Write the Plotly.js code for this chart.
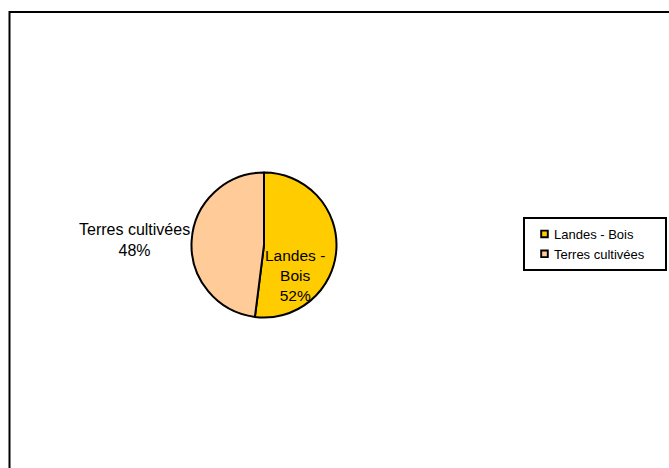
<!DOCTYPE html>
<html>
<head>
<meta charset="utf-8">
<script src="https://cdn.plot.ly/plotly-3.0.1.min.js"></script>
<style>html,body{margin:0;padding:0;background:#fff;}#chart{width:669px;height:468px;}</style>
</head>
<body>
<div id="chart"></div>
<script>
const labels = ["Landes - Bois", "Terres cultivées"];
const values = [52, 48];
const colors = ["#FFCC00", "#FFCC99"];

const W = 669, H = 468;
const total = values.reduce((a, b) => a + b, 0);
const pct = values.map(v => Math.round(v / total * 100) + "%");

const cx = 264, cy = 245, r = 72.5;

const data = [{
  type: "pie",
  labels: labels,
  values: values,
  sort: false,
  direction: "clockwise",
  rotation: 0,
  textinfo: "none",
  hoverinfo: "label+percent",
  marker: {colors: colors, line: {color: "#000", width: 2}},
  domain: {x: [(cx - r) / W, (cx + r) / W], y: [(H - cy - r) / H, (H - cy + r) / H]},
  showlegend: true
}];

const layout = {
  width: W, height: H,
  margin: {l: 0, r: 0, t: 0, b: 0},
  paper_bgcolor: "#fff",
  font: {family: "Liberation Sans, Arial, sans-serif", color: "#000"},
  showlegend: true,
  legend: {
    x: 523 / W, y: 1 - 217 / H, xanchor: "left", yanchor: "top",
    bordercolor: "#000", borderwidth: 2, bgcolor: "#fff",
    font: {size: 13, family: "Liberation Sans, Arial, sans-serif"},
    itemwidth: 30, tracegroupgap: 0
  },
  shapes: [
    {type: "line", xref: "paper", yref: "paper", x0: 9.5 / W, x1: 9.5 / W, y0: 1 - 11 / H, y1: 0, line: {color: "#000", width: 2}},
    {type: "line", xref: "paper", yref: "paper", x0: 9 / W, x1: 1, y0: 1 - 12 / H, y1: 1 - 12 / H, line: {color: "#000", width: 2}}
  ],
  annotations: [
    {text: "Landes -<br>Bois<br>" + pct[0], x: 295 / W, y: 1 - 275 / H, xref: "paper", yref: "paper", showarrow: false,
     font: {size: 15.5}, align: "center", xanchor: "center", yanchor: "middle"},
    {text: labels[1] + "<br>" + pct[1], x: 134 / W, y: 1 - 240.5 / H, xref: "paper", yref: "paper", showarrow: false,
     font: {size: 16}, align: "center", xanchor: "center", yanchor: "middle"}
  ]
};

Plotly.newPlot("chart", data, layout, {displayModeBar: false, staticPlot: true}).then(gd => {
  // Excel-style small legend swatches placed close to the text
  const bg = gd.querySelector(".legend .bg");
  const bgBox = bg.getBoundingClientRect();
  const w0 = parseFloat(bg.getAttribute("width"));
  if (!isNaN(w0)) bg.setAttribute("width", w0 + 4);
  gd.querySelectorAll(".legend .traces").forEach(tr => {
    const pts = tr.querySelector(".legendpoints");
    const pb = pts.getBoundingClientRect();
    const s = 0.55;
    const pcx = pb.left + pb.width / 2;
    const tx = bgBox.left + 20.5 - pcx;
    const old = pts.getAttribute("transform") || "";
    const bb = pts.getBBox();
    const lx = bb.x + bb.width / 2, ly = bb.y + bb.height / 2;
    pts.setAttribute("transform", old + " translate(" + (lx + tx) + "," + ly + ") scale(" + s + ") translate(" + (-lx) + "," + (-ly) + ")");
    pts.querySelectorAll("path").forEach(p => { p.style.strokeWidth = "3.5px"; });
    const t = tr.querySelector(".legendtext");
    if (t) {
      const x0 = parseFloat(t.getAttribute("x")) || 40;
      t.setAttribute("x", x0 - 11);
      t.querySelectorAll("tspan[x]").forEach(ts => ts.setAttribute("x", parseFloat(ts.getAttribute("x")) - 11));
    }
  });
});
</script>
</body>
</html>
